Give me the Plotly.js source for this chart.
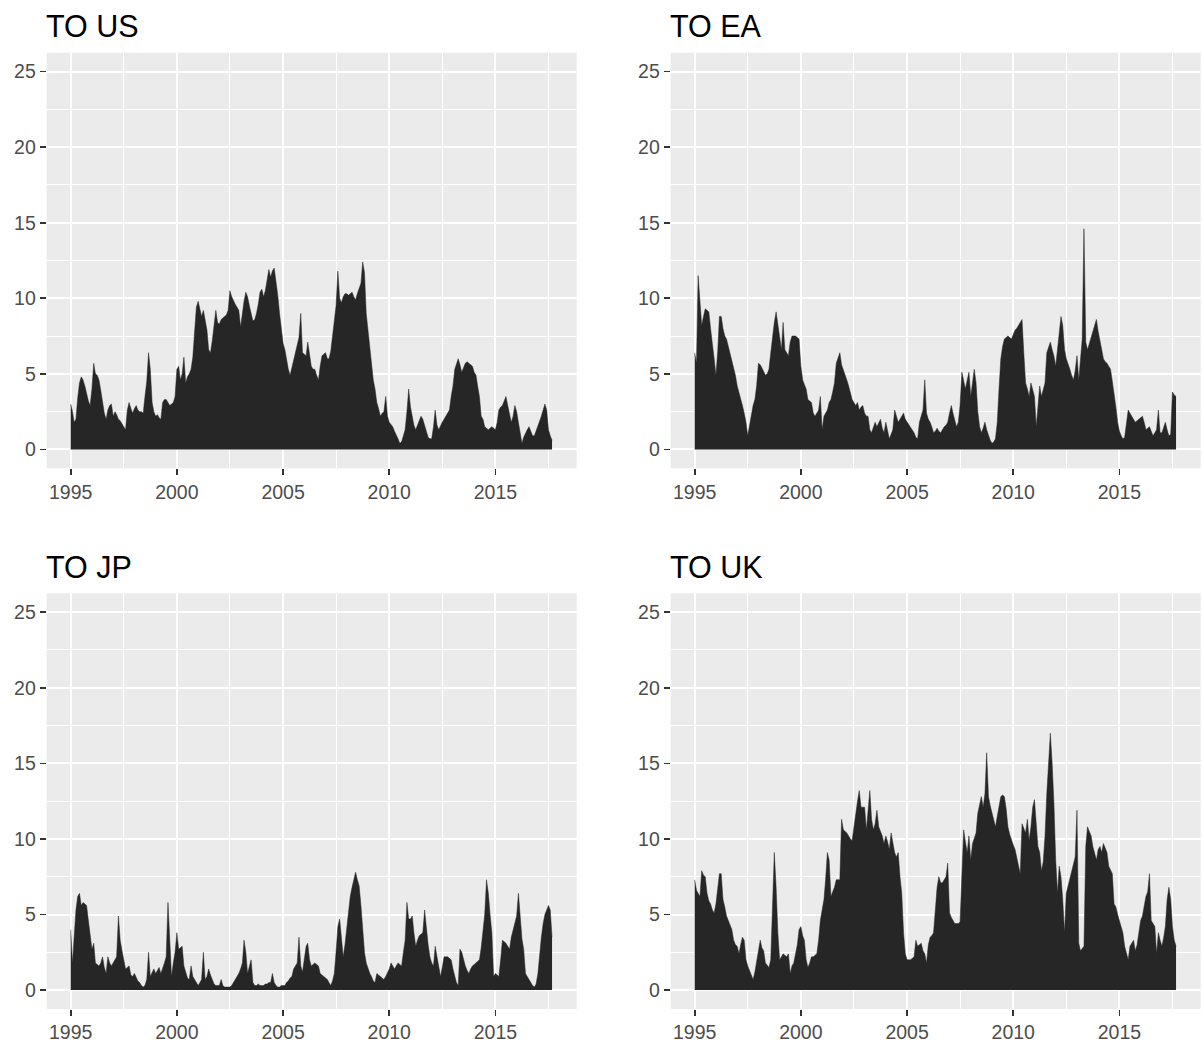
<!DOCTYPE html>
<html>
<head>
<meta charset="utf-8">
<script src="https://cdn.plot.ly/plotly-3.0.1.min.js"></script>
<style>
  html, body { margin: 0; padding: 0; background: #ffffff; }
  #chart { width: 1203px; height: 1046px; }
</style>
</head>
<body>
<div id="chart"></div>
<script>
// ---------------- DATA (monthly, Jan 1995 .. Sep 2017) ----------------
const startYear = 1995;
const panelTitles = ["TO US", "TO EA", "TO JP", "TO UK"];
const xTickYears = ["1995", "2000", "2005", "2010", "2015"];
const yTickVals = [0, 5, 10, 15, 20, 25];

const toUS = [
  3.0,2.5,1.8,2.0,3.4,4.4,4.8,4.6,4.2,3.6,3.2,2.9,      // 1995
  4.0,5.7,5.0,4.9,4.6,3.9,3.1,2.4,2.0,2.6,2.9,3.0,      // 1996
  2.2,2.5,2.3,2.0,1.9,1.7,1.5,1.3,2.6,3.1,2.7,2.4,      // 1997
  2.7,2.9,2.6,2.5,2.5,2.4,3.5,4.5,6.4,5.3,3.1,2.5,      // 1998
  2.2,2.3,2.1,2.0,3.1,3.3,3.3,3.1,2.9,3.0,3.1,3.5,      // 1999
  5.3,5.5,4.6,5.0,6.1,4.4,4.8,5.0,5.3,6.1,8.0,9.4,      // 2000
  9.8,9.3,8.8,9.2,8.5,7.9,6.6,6.4,7.2,8.1,9.2,8.4,      // 2001
  8.3,8.6,8.7,8.8,8.9,9.2,10.5,10.1,9.8,9.6,9.4,9.2,    // 2002
  8.1,9.2,9.8,10.4,10.1,9.5,9.0,8.5,8.6,9.0,9.6,10.4,   // 2003
  10.6,10.1,10.5,11.2,11.9,11.4,11.8,12.0,11.2,10.2,9.0,7.9, // 2004
  7.0,6.6,5.9,5.3,4.9,5.4,6.0,6.6,7.0,7.4,9.0,6.4,      // 2005
  6.3,6.2,7.1,6.2,5.5,5.3,5.3,4.9,4.6,5.5,6.2,6.3,      // 2006
  6.4,6.0,6.0,6.5,7.5,8.5,9.5,11.8,10.0,9.7,10.1,10.3,  // 2007
  10.3,10.2,10.3,10.4,10.1,9.9,10.3,10.6,11.0,12.4,11.7,9.0, // 2008
  7.9,6.5,5.5,4.6,4.0,3.1,2.7,2.2,2.4,2.5,3.5,2.2,      // 2009
  1.8,1.6,1.5,1.2,1.0,0.7,0.4,0.5,0.9,1.3,2.5,4.0,      // 2010
  2.8,2.2,1.6,1.3,1.6,1.8,2.2,2.0,1.5,1.2,0.8,0.7,      // 2011
  0.7,1.5,2.6,1.6,1.3,1.6,1.8,2.0,2.2,2.4,2.6,3.5,      // 2012
  4.2,5.3,5.6,6.0,5.6,5.1,5.4,5.7,5.8,5.7,5.6,5.5,      // 2013
  5.1,4.9,4.2,3.5,2.2,2.0,1.5,1.4,1.3,1.4,1.5,1.4,      // 2014
  1.3,1.8,2.6,2.8,2.9,3.2,3.5,2.9,2.4,1.8,2.2,2.9,      // 2015
  2.5,1.8,1.0,0.4,0.8,1.1,1.3,1.5,1.2,0.9,0.9,1.2,      // 2016
  1.6,1.8,2.2,2.6,3.0,2.6,1.3,0.9,0.6                   // 2017
];

const toEA = [
  6.4,5.7,11.5,9.7,8.2,8.8,9.3,9.2,9.1,8.0,7.1,6.0,     // 1995
  4.9,6.5,8.8,8.8,8.0,7.5,7.3,6.8,6.4,6.0,5.4,4.9,      // 1996
  4.2,3.8,3.3,2.9,2.4,1.8,0.9,1.6,2.2,2.9,3.3,4.2,      // 1997
  5.7,5.6,5.4,5.1,4.9,5.0,5.3,6.4,7.5,8.4,9.1,8.2,      // 1998
  7.4,6.6,8.4,6.6,6.4,6.2,7.1,7.5,7.5,7.5,7.4,7.3,      // 1999
  5.5,4.6,4.3,4.0,3.3,3.2,3.1,2.4,2.2,2.4,2.6,3.5,      // 2000
  1.3,2.2,2.4,2.6,3.1,3.3,3.8,4.4,5.7,6.0,6.4,5.6,      // 2001
  5.3,4.9,4.6,4.2,3.8,3.3,3.1,2.9,3.1,2.6,2.8,2.9,      // 2002
  2.4,2.2,2.2,1.3,1.1,1.4,1.8,1.5,1.8,2.0,1.4,1.1,      // 2003
  1.8,1.1,0.7,1.0,1.3,2.6,2.2,1.8,2.0,2.2,2.4,2.0,      // 2004
  1.8,1.6,1.5,1.3,1.1,0.8,0.7,1.8,2.2,2.6,4.6,2.4,      // 2005
  2.0,1.8,1.5,1.1,1.2,1.4,1.2,1.1,1.3,1.5,1.6,1.8,      // 2006
  2.4,2.9,2.4,2.0,1.5,1.8,2.9,5.1,4.4,4.0,4.6,5.1,      // 2007
  3.5,4.5,5.3,4.4,2.5,1.5,1.1,1.4,1.8,1.3,0.9,0.6,      // 2008
  0.4,0.5,0.7,1.8,4.0,6.0,6.8,7.3,7.4,7.5,7.4,7.3,      // 2009
  7.6,7.9,8.0,8.2,8.4,8.6,6.4,4.4,4.0,3.5,4.4,4.0,      // 2010
  3.5,1.5,2.8,4.2,3.5,3.9,4.4,6.4,6.8,7.1,6.6,6.2,      // 2011
  5.5,6.6,7.7,8.8,8.2,6.6,6.0,5.7,5.3,4.9,4.6,5.2,      // 2012
  6.2,4.6,5.7,7.3,14.6,7.1,6.6,7.0,7.5,7.9,8.2,8.6,     // 2013
  7.8,7.1,6.6,6.0,5.8,5.7,5.5,5.3,4.5,3.8,2.8,1.8,      // 2014
  1.2,0.9,0.7,0.8,1.8,2.6,2.4,2.2,2.0,1.8,1.9,2.0,      // 2015
  2.1,2.2,1.8,1.3,1.4,1.5,1.2,0.9,1.1,1.3,2.6,1.1,      // 2016
  1.1,1.4,1.8,1.3,0.9,1.0,3.8,3.6,3.5                   // 2017
];

const toJP = [
  4.0,1.8,3.5,5.3,6.2,6.4,5.6,5.8,5.7,5.6,4.6,3.5,      // 1995
  2.7,3.1,1.8,1.7,1.6,1.8,2.2,1.5,1.1,2.2,1.8,1.6,      // 1996
  1.8,2.0,2.2,4.9,3.3,2.6,2.0,1.4,1.5,1.6,1.0,0.9,      // 1997
  1.1,0.8,0.6,0.5,0.3,0.2,0.3,0.7,2.5,0.9,1.2,1.4,      // 1998
  1.1,1.3,1.5,1.1,1.4,1.8,2.2,5.8,3.3,0.9,1.8,2.5,      // 1999
  3.8,2.7,2.8,2.9,1.6,1.1,0.8,0.7,1.6,0.9,0.7,0.5,      // 2000
  0.3,0.5,0.7,2.5,0.7,0.9,1.4,1.0,0.7,0.4,0.3,0.3,      // 2001
  0.3,0.7,0.3,0.2,0.2,0.2,0.2,0.3,0.5,0.7,0.9,1.1,      // 2002
  1.4,1.8,3.3,2.5,1.1,1.5,2.0,0.5,0.3,0.3,0.4,0.3,      // 2003
  0.3,0.3,0.4,0.4,0.5,0.5,1.1,0.5,0.3,0.2,0.2,0.3,      // 2004
  0.3,0.3,0.5,0.6,0.8,0.9,1.4,1.6,1.8,3.5,1.6,1.2,      // 2005
  2.2,2.9,3.1,2.0,1.6,1.7,1.8,1.7,1.6,1.1,1.0,0.9,      // 2006
  0.8,0.7,0.5,0.3,0.6,1.1,2.5,4.2,4.7,3.5,2.2,3.0,      // 2007
  4.2,5.0,6.2,6.8,7.3,7.8,7.3,6.9,5.6,4.0,2.5,1.8,      // 2008
  1.4,1.1,0.9,0.6,0.5,1.1,1.0,0.9,0.8,0.7,0.9,1.1,      // 2009
  1.4,1.8,1.6,1.4,1.6,1.8,1.7,1.6,2.5,3.3,5.8,4.7,      // 2010
  4.7,4.9,3.8,2.9,3.3,3.6,3.7,3.8,5.3,4.0,3.0,2.2,      // 2011
  1.8,1.6,2.9,2.2,1.6,0.9,1.5,2.2,2.2,2.2,2.1,2.0,      // 2012
  1.4,0.9,0.5,0.3,2.7,2.5,2.0,1.6,1.3,1.1,1.4,1.6,      // 2013
  1.7,1.8,1.9,2.0,2.8,3.8,5.0,7.3,6.4,5.0,3.8,0.9,      // 2014
  1.1,1.0,0.9,2.0,3.3,3.2,3.1,2.9,2.7,3.5,4.0,4.6,      // 2015
  4.9,6.4,4.7,3.4,2.7,1.1,0.9,0.7,0.5,0.3,0.2,0.4,      // 2016
  1.1,2.5,3.5,4.4,5.0,5.3,5.6,5.3,3.5                   // 2017
];

const toUK = [
  7.3,6.6,6.4,6.2,7.9,7.6,7.5,6.4,5.9,5.7,5.3,5.1,      // 1995
  5.7,6.8,7.7,7.7,6.0,5.5,4.9,4.6,4.3,4.0,3.3,3.0,      // 1996
  2.9,2.4,3.0,3.5,3.3,2.0,1.6,1.3,1.1,0.7,1.2,1.8,      // 1997
  2.6,3.3,2.8,2.6,1.8,1.6,1.5,2.0,5.5,9.1,6.8,3.8,      // 1998
  2.0,2.2,2.4,2.3,2.2,2.4,1.1,1.6,1.8,2.4,3.0,4.0,      // 1999
  4.2,3.6,3.3,2.0,1.5,1.8,2.2,2.2,2.3,2.4,3.3,4.6,      // 2000
  5.3,6.0,7.3,9.1,8.6,6.2,6.5,6.8,7.3,7.3,7.3,11.3,     // 2001
  10.6,10.5,10.4,10.2,10.0,9.9,10.8,11.9,12.5,13.2,12.1,12.1, // 2002
  12.1,10.6,11.8,13.2,11.3,10.6,11.0,11.9,10.8,10.5,10.2,9.7, // 2003
  10.2,9.8,9.3,10.4,9.6,9.1,8.8,9.1,7.5,6.4,3.8,2.4,    // 2004
  2.0,2.0,2.0,2.1,2.2,3.3,2.9,3.0,3.1,2.6,2.4,1.8,      // 2005
  3.0,3.5,3.6,3.8,5.5,6.8,7.5,7.1,7.1,7.3,7.5,8.4,      // 2006
  5.1,4.8,4.6,4.4,4.4,4.4,4.5,7.7,10.6,9.8,9.1,10.2,    // 2007
  8.6,9.7,10.0,10.4,11.7,12.2,12.8,12.1,13.0,15.7,12.8,12.2, // 2008
  11.7,11.3,10.8,11.5,12.3,12.8,12.9,12.8,12.0,10.8,10.3,9.9, // 2009
  9.6,9.3,8.8,8.4,7.7,11.0,10.7,10.4,11.3,9.9,10.8,12.1, // 2010
  12.6,10.6,9.5,9.1,7.9,8.5,10.2,13.0,15.2,17.0,15.0,12.4, // 2011
  8.6,6.4,8.2,7.5,6.0,3.8,6.4,6.9,7.3,7.9,8.4,8.8,      // 2012
  11.9,3.1,2.6,2.8,2.9,9.5,10.8,10.5,10.2,9.5,9.0,8.6,  // 2013
  9.3,9.5,9.1,9.7,9.4,9.1,8.2,7.9,7.7,5.7,5.5,5.0,      // 2014
  4.6,4.2,3.8,2.9,2.4,2.0,2.9,3.1,3.3,2.6,3.0,3.8,      // 2015
  4.6,4.9,5.5,6.2,6.5,7.7,4.6,4.4,4.2,2.4,3.8,3.3,      // 2016
  2.9,3.5,4.2,6.0,6.8,6.0,4.2,3.3,2.9                   // 2017
];

// ---------------- BUILD ----------------
function monthDates(n) {
  const out = [];
  for (let i = 0; i < n; i++) {
    const y = startYear + Math.floor(i / 12);
    const m = (i % 12) + 1;
    out.push(y + "-" + (m < 10 ? "0" + m : m) + "-01");
  }
  return out;
}

const seriesList = [toUS, toEA, toJP, toUK];
const fillCol = "#262626";
const FONT = "'Liberation Sans', Arial, Helvetica, sans-serif";

const W = 1203, H = 1046;
const colX = [[46.7, 576.7], [670.7, 1200.7]];
const rowY = [[52.7, 468.3], [593.3, 1009.0]];

const traces = seriesList.map((vals, k) => ({
  type: "scatter",
  mode: "lines",
  x: monthDates(vals.length),
  y: vals,
  fill: "tozeroy",
  fillcolor: fillCol,
  line: { color: fillCol, width: 0.5, shape: "linear" },
  xaxis: "x" + (k === 0 ? "" : k + 1),
  yaxis: "y" + (k === 0 ? "" : k + 1),
  hoverinfo: "skip",
  showlegend: false
}));

const xTickVals = xTickYears.map(y => y + "-01-01");
const xMinorVals = ["1992-07-02", "1997-07-02", "2002-07-02", "2007-07-02", "2012-07-02", "2017-07-02"];
const yMinorVals = [2.5, 7.5, 12.5, 17.5, 22.5];

function xAxis(col, anchor) {
  return {
    type: "date",
    domain: [colX[col][0] / W, colX[col][1] / W],
    anchor: anchor,
    range: ["1993-11-14", "2018-10-30"],
    tickmode: "array",
    tickvals: xTickVals,
    ticktext: xTickYears,
    ticks: "outside",
    ticklen: 6,
    tickwidth: 1.6,
    tickcolor: "#333333",
    tickfont: { family: FONT, size: 19.5, color: "#4D4D4D" },
    showgrid: true,
    gridcolor: "#FFFFFF",
    gridwidth: 2,
    minor: { tickmode: "array", tickvals: xMinorVals, showgrid: true, gridcolor: "#FFFFFF", gridwidth: 1, ticks: "" },
    zeroline: false,
    showline: false,
    fixedrange: true
  };
}
function yAxis(row, anchor) {
  return {
    domain: [1 - rowY[row][1] / H, 1 - rowY[row][0] / H],
    anchor: anchor,
    range: [-1.25, 26.25],
    tickmode: "array",
    tickvals: yTickVals,
    ticktext: yTickVals.map(String),
    ticks: "outside",
    ticklen: 6,
    tickwidth: 1.6,
    tickcolor: "#333333",
    tickfont: { family: FONT, size: 19.5, color: "#4D4D4D" },
    showgrid: true,
    gridcolor: "#FFFFFF",
    gridwidth: 2,
    minor: { tickmode: "array", tickvals: yMinorVals, showgrid: true, gridcolor: "#FFFFFF", gridwidth: 1, ticks: "" },
    zeroline: false,
    showline: false,
    fixedrange: true
  };
}

const titleCenters = [25.5, 567];
const annotations = panelTitles.map((t, k) => {
  const col = k % 2, row = Math.floor(k / 2);
  return {
    text: t,
    xref: "paper", yref: "paper",
    x: (colX[col][0] - 3) / W,
    y: 1 - titleCenters[row] / H,
    xanchor: "left", yanchor: "middle",
    showarrow: false,
    font: { family: FONT, size: 30.5, color: "#000000" }
  };
});

const layout = {
  width: W, height: H,
  margin: { l: 0, r: 0, t: 0, b: 0, pad: 0 },
  paper_bgcolor: "#FFFFFF",
  plot_bgcolor: "#EBEBEB",
  showlegend: false,
  hovermode: false,
  font: { family: FONT },
  xaxis: xAxis(0, "y"),
  yaxis: yAxis(0, "x"),
  xaxis2: xAxis(1, "y2"),
  yaxis2: yAxis(0, "x2"),
  xaxis3: xAxis(0, "y3"),
  yaxis3: yAxis(1, "x3"),
  xaxis4: xAxis(1, "y4"),
  yaxis4: yAxis(1, "x4"),
  annotations: annotations
};

Plotly.newPlot("chart", traces, layout, { displayModeBar: false, staticPlot: true });
</script>
</body>
</html>
